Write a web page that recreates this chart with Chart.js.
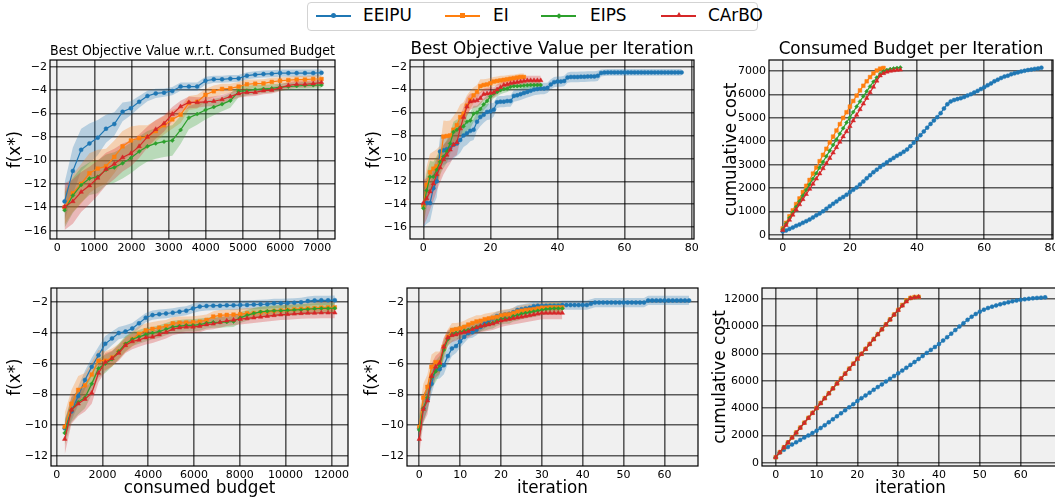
<!DOCTYPE html>
<html>
<head>
<meta charset="utf-8">
<script src="https://cdn.jsdelivr.net/npm/chart.js@4.4.1/dist/chart.umd.min.js"></script>
<style>
body { margin: 0; background: #fff; overflow: hidden; }
#wrap { position: relative; width: 1055px; height: 500px; overflow: hidden; font-family: 'DejaVu Sans', sans-serif; }
#wrap canvas { position: absolute; }
#legend { position: absolute; left: 307px; top: 2px; width: 451px; height: 29px; box-sizing: border-box;
  border: 1px solid #d3d3d3; border-radius: 4px; background: #fff; }
.lg-line { position: absolute; top: 12px; height: 1.5px; width: 35px; }
.lg-mk { position: absolute; }
.lg-text { position: absolute; top: 1px; font-size: 16.9px; line-height: 22px; color: #000; }
</style>
</head>
<body>
<div id="wrap">
  <div id="legend">
    <div class="lg-line" style="left:8px;background:#1f77b4"></div>
    <div class="lg-mk" style="left:23px;top:10px;width:5px;height:5px;border-radius:50%;background:#1f77b4"></div>
    <div class="lg-text" style="left:55px">EEIPU</div>
    <div class="lg-line" style="left:137px;background:#ff7f0e"></div>
    <div class="lg-mk" style="left:152px;top:10px;width:5px;height:5px;background:#ff7f0e"></div>
    <div class="lg-text" style="left:185px">EI</div>
    <div class="lg-line" style="left:233px;background:#2ca02c"></div>
    <div class="lg-mk" style="left:249px;top:11px;width:4px;height:4px;transform:rotate(45deg);background:#2ca02c"></div>
    <div class="lg-text" style="left:282px">EIPS</div>
    <div class="lg-line" style="left:353px;background:#d62728"></div>
    <div class="lg-mk" style="left:368px;top:9px;width:0;height:0;border-left:3px solid transparent;border-right:3px solid transparent;border-bottom:5px solid #d62728"></div>
    <div class="lg-text" style="left:400px">CArBO</div>
  </div>
</div>
<script>
// ---- tick labels ----
const XT_BUDGET_TOP = [0, 1000, 2000, 3000, 4000, 5000, 6000, 7000];
const XT_ITER_TOP = [0, 20, 40, 60, 80];
const XT_BUDGET_BOT = [0, 2000, 4000, 6000, 8000, 10000, 12000];
const XT_ITER_BOT = [0, 10, 20, 30, 40, 50, 60];
const YT_F_TOP = [-16, -14, -12, -10, -8, -6, -4, -2];
const YT_F_BOT = [-12, -10, -8, -6, -4, -2];
const YT_COST_TOP = [0, 1000, 2000, 3000, 4000, 5000, 6000, 7000];
const YT_COST_BOT = [0, 2000, 4000, 6000, 8000, 10000, 12000];

// ---- top row, best objective vs consumed budget ----
const B1_X = [200, 423, 646, 869, 1092, 1315, 1538, 1761, 1984, 2207, 2430, 2653, 2876, 3099, 3322, 3545,
  3768, 3991, 4214, 4437, 4660, 4883, 5106, 5329, 5552, 5775, 5998, 6221, 6444, 6667, 6890, 7113];
const B1_EEIPU = [-13.5, -10.9, -9.1, -8.55, -8.06, -7.3, -6.9, -5.85, -5.55, -5.0, -4.5, -4.28, -4.22, -4.08, -3.7, -3.7,
  -3.7, -3.2, -3.08, -3.08, -3.02, -3.0, -2.77, -2.68, -2.63, -2.6, -2.55, -2.55, -2.55, -2.55, -2.55, -2.52];
const B1_EEIPU_SD = [1.6, 2.0, 1.8, 1.7, 1.5, 1.2, 1.0, 0.8, 0.6, 0.5, 0.45, 0.4, 0.35, 0.35, 0.35, 0.35,
  0.35, 0.35, 0.3, 0.3, 0.3, 0.3, 0.3, 0.3, 0.3, 0.3, 0.3, 0.3, 0.3, 0.3, 0.3, 0.3];
const B1_EI = [-14.0, -12.8, -12.0, -11.1, -10.7, -10.5, -9.7, -8.8, -8.3, -8.1, -8.0, -7.5, -7.0, -6.5, -6.1, -5.1,
  -5.0, -4.4, -4.1, -3.9, -3.85, -3.7, -3.5, -3.45, -3.43, -3.3, -3.2, -3.15, -3.1, -3.1, -3.05, -3.05];
const B1_EI_SD = [1.5, 1.6, 1.7, 1.7, 1.6, 1.5, 1.4, 1.3, 1.2, 1.1, 1.0, 0.9, 0.8, 0.8, 0.7, 0.6,
  0.6, 0.5, 0.5, 0.45, 0.4, 0.4, 0.4, 0.35, 0.35, 0.35, 0.3, 0.3, 0.3, 0.3, 0.3, 0.3];
const B1_EIPS = [-14.25, -13.0, -12.1, -11.55, -11.4, -10.8, -10.6, -10.25, -9.8, -9.25, -8.8, -8.55, -8.4, -8.3, -7.4, -6.35,
  -6.05, -5.7, -5.45, -5.2, -4.9, -4.1, -4.05, -3.95, -3.9, -3.85, -3.75, -3.7, -3.65, -3.6, -3.58, -3.57];
const B1_EIPS_SD = [1.5, 1.5, 1.5, 1.4, 1.4, 1.3, 1.3, 1.3, 1.3, 1.3, 1.3, 1.3, 1.3, 1.3, 1.2, 1.0,
  0.9, 0.8, 0.7, 0.6, 0.6, 0.5, 0.4, 0.4, 0.35, 0.35, 0.3, 0.3, 0.3, 0.3, 0.3, 0.3];
const B1_CARBO = [-13.95, -13.5, -12.7, -12.15, -11.5, -10.75, -10.3, -9.75, -9.4, -8.8, -8.0, -7.35, -6.85, -6.05, -5.4, -5.05,
  -5.05, -5.0, -4.95, -4.8, -4.55, -4.3, -4.2, -4.2, -4.05, -4.0, -3.8, -3.6, -3.5, -3.5, -3.45, -3.35];
const B1_CARBO_SD = [2.0, 1.9, 1.7, 1.6, 1.5, 1.4, 1.3, 1.2, 1.1, 1.0, 0.9, 0.8, 0.7, 0.6, 0.5, 0.5,
  0.45, 0.4, 0.4, 0.4, 0.35, 0.35, 0.35, 0.3, 0.3, 0.3, 0.3, 0.3, 0.3, 0.3, 0.3, 0.3];

// ---- top row, best objective per iteration ----
const I1_EEIPU = [-14.0, -13.9, -13.9, -12.6, -12.0, -9.4, -9.3, -9.2, -9.1, -8.8,
  -8.7, -8.4, -8.0, -7.8, -7.6, -7.5, -6.8, -6.4, -6.2, -5.95,
  -5.9, -5.75, -5.1, -5.05, -5.05, -5.0, -5.0, -4.55, -4.5, -4.4,
  -4.3, -4.2, -4.1, -4.0, -3.95, -3.9, -3.9, -3.85, -3.55, -3.35,
  -3.3, -3.3, -3.25, -2.95, -2.9, -2.9, -2.9, -2.88, -2.88, -2.86,
  -2.85, -2.85, -2.8, -2.55, -2.52, -2.5, -2.5, -2.5, -2.5, -2.5,
  -2.5, -2.5, -2.5, -2.5, -2.5, -2.5, -2.5, -2.5, -2.5, -2.5,
  -2.5, -2.5, -2.5, -2.5, -2.5, -2.5, -2.5, -2.5];
const I1_EEIPU_SD = [2.0, 1.8, 1.6, 1.5, 1.4, 1.3, 1.3, 1.2, 1.2, 1.2,
  1.1, 1.1, 1.0, 1.0, 0.9, 0.9, 0.8, 0.8, 0.7, 0.7,
  0.7, 0.6, 0.5, 0.5, 0.5, 0.5, 0.5, 0.5, 0.5, 0.5,
  0.5, 0.5, 0.5, 0.5, 0.5, 0.5, 0.5, 0.45, 0.45, 0.45,
  0.45, 0.45, 0.45, 0.45, 0.45, 0.45, 0.45, 0.45, 0.45, 0.45,
  0.45, 0.45, 0.45, 0.3, 0.3, 0.3, 0.3, 0.3, 0.3, 0.3,
  0.3, 0.3, 0.3, 0.3, 0.3, 0.3, 0.3, 0.3, 0.3, 0.3,
  0.3, 0.3, 0.3, 0.3, 0.3, 0.3, 0.3, 0.3];
const I1_EI = [-14.1, -12.3, -11.2, -10.9, -10.7, -10.3, -8.1, -8.05, -8.0, -7.5,
  -7.1, -6.4, -6.1, -5.4, -4.9, -4.5, -4.2, -3.7, -3.6, -3.55,
  -3.45, -3.3, -3.25, -3.2, -3.15, -3.1, -3.05, -3.0, -2.95, -2.9, -2.9];
const I1_EI_SD = [1.5, 1.6, 1.6, 1.5, 1.5, 1.4, 1.4, 1.3, 1.3, 1.2,
  1.2, 1.1, 1.0, 0.9, 0.8, 0.7, 0.6, 0.6, 0.5, 0.5,
  0.45, 0.4, 0.4, 0.4, 0.35, 0.35, 0.35, 0.3, 0.3, 0.3, 0.3];
const I1_EIPS = [-14.35, -12.8, -11.6, -11.6, -11.0, -10.3, -9.85, -9.4, -8.7, -7.7,
  -7.5, -7.3, -7.2, -6.8, -6.7, -6.1, -6.0, -5.7, -5.3, -5.0,
  -4.6, -4.35, -4.2, -4.05, -3.95, -3.9, -3.75, -3.7, -3.7, -3.68,
  -3.65, -3.62, -3.6, -3.6, -3.6, -3.6];
const I1_EIPS_SD = [1.5, 1.5, 1.4, 1.3, 1.2, 1.1, 1.0, 1.0, 0.9, 0.9,
  0.9, 0.8, 0.8, 0.8, 0.7, 0.7, 0.6, 0.6, 0.5, 0.5,
  0.45, 0.4, 0.4, 0.35, 0.35, 0.3, 0.3, 0.3, 0.3, 0.3,
  0.3, 0.3, 0.3, 0.3, 0.3, 0.3];
const I1_CARBO = [-13.9, -13.5, -12.9, -12.2, -11.4, -10.8, -10.1, -9.7, -9.25, -8.8,
  -8.6, -7.4, -6.4, -5.5, -5.05, -5.0, -4.95, -4.75, -4.4, -4.35,
  -4.3, -4.25, -4.0, -3.8, -3.6, -3.55, -3.45, -3.4, -3.35, -3.3,
  -3.25, -3.2, -3.2, -3.2, -3.2, -3.2];
const I1_CARBO_SD = [2.0, 1.8, 1.6, 1.5, 1.4, 1.3, 1.3, 1.2, 1.2, 1.1,
  1.1, 1.0, 0.9, 0.8, 0.7, 0.6, 0.6, 0.55, 0.5, 0.5,
  0.5, 0.45, 0.45, 0.4, 0.4, 0.4, 0.4, 0.4, 0.4, 0.4,
  0.4, 0.4, 0.4, 0.4, 0.4, 0.4];

// ---- top row, cumulative cost per iteration ----
const C1_EEIPU = [150, 190, 260, 320, 390, 450, 520, 590, 660, 750,
  840, 920, 1010, 1120, 1230, 1330, 1430, 1540, 1620, 1720,
  1830, 1930, 2030, 2160, 2280, 2420, 2550, 2680, 2790, 2900,
  3000, 3100, 3200, 3290, 3380, 3460, 3550, 3650, 3790, 3940,
  4110, 4260, 4420, 4580, 4740, 4890, 5030, 5200, 5400, 5580,
  5700, 5760, 5800, 5840, 5890, 5950, 6010, 6080, 6150, 6230,
  6310, 6390, 6470, 6560, 6630, 6700, 6760, 6800, 6860, 6900,
  6940, 6980, 7010, 7040, 7060, 7090, 7110, 7140];
const C1_EI = [280, 520, 800, 1050, 1320, 1560, 1830, 2100, 2350, 2620,
  2880, 3150, 3420, 3680, 3950, 4200, 4460, 4730, 5000, 5240,
  5480, 5720, 5950, 6170, 6370, 6560, 6740, 6900, 7020, 7100, 7130];
const C1_EIPS = [250, 480, 720, 960, 1200, 1440, 1680, 1920, 2160, 2400,
  2640, 2880, 3120, 3360, 3600, 3840, 4080, 4320, 4560, 4800,
  5020, 5250, 5480, 5700, 5920, 6130, 6340, 6540, 6720, 6870,
  6980, 7040, 7080, 7110, 7130, 7150];
const C1_CARBO = [200, 420, 640, 860, 1080, 1300, 1520, 1740, 1960, 2180,
  2400, 2620, 2840, 3060, 3280, 3510, 3740, 3970, 4200, 4420,
  4640, 4880, 5120, 5360, 5600, 5840, 6080, 6320, 6580, 6800,
  6900, 6960, 7000, 7020, 7040, 7050];

// ---- bottom row, best objective vs consumed budget ----
const B2_X = [350, 645, 940, 1235, 1530, 1825, 2120, 2415, 2710, 3005,
  3300, 3595, 3890, 4185, 4480, 4775, 5070, 5365, 5660, 5955,
  6250, 6545, 6840, 7135, 7430, 7725, 8020, 8315, 8610, 8905,
  9200, 9495, 9790, 10085, 10380, 10675, 10970, 11265, 11560, 11855, 12150];
const B2_EEIPU = [-10.2, -9.1, -8.1, -7.05, -6.2, -5.45, -4.7, -4.35, -4.0, -3.9,
  -3.7, -3.37, -3.0, -2.83, -2.77, -2.73, -2.68, -2.61, -2.55, -2.4,
  -2.28, -2.24, -2.22, -2.22, -2.2, -2.2, -2.18, -2.17, -2.15, -2.13,
  -2.12, -2.07, -2.07, -2.05, -2.03, -2.0, -1.92, -1.88, -1.87, -1.87, -1.86];
const B2_EEIPU_SD = [0.6, 0.6, 0.6, 0.6, 0.6, 0.55, 0.5, 0.45, 0.4, 0.4,
  0.35, 0.35, 0.3, 0.3, 0.3, 0.3, 0.3, 0.3, 0.3, 0.3,
  0.3, 0.3, 0.3, 0.3, 0.3, 0.3, 0.3, 0.3, 0.3, 0.3,
  0.3, 0.3, 0.3, 0.3, 0.3, 0.3, 0.3, 0.3, 0.3, 0.3, 0.3];
const B2_EI = [-10.1, -8.6, -7.7, -7.4, -6.7, -5.8, -5.8, -5.6, -5.2, -4.75,
  -4.4, -4.05, -3.83, -3.73, -3.65, -3.55, -3.37, -3.33, -3.32, -3.3,
  -3.26, -3.15, -2.93, -2.85, -2.82, -2.8, -2.77, -2.72, -2.7, -2.66,
  -2.62, -2.57, -2.53, -2.5, -2.46, -2.43, -2.4, -2.38, -2.35, -2.33, -2.33];
const B2_EI_SD = [0.9, 0.9, 0.9, 0.8, 0.8, 0.7, 0.6, 0.6, 0.5, 0.5,
  0.5, 0.5, 0.45, 0.45, 0.45, 0.4, 0.4, 0.4, 0.4, 0.4,
  0.4, 0.35, 0.35, 0.35, 0.35, 0.35, 0.35, 0.35, 0.35, 0.35,
  0.35, 0.35, 0.35, 0.35, 0.35, 0.35, 0.35, 0.35, 0.35, 0.35, 0.35];
const B2_EIPS = [-10.5, -9.0, -8.5, -8.2, -7.3, -6.3, -6.0, -5.7, -5.2, -4.7,
  -4.4, -4.25, -4.1, -4.0, -3.9, -3.75, -3.6, -3.55, -3.5, -3.5,
  -3.45, -3.35, -3.3, -3.3, -3.28, -3.25, -3.0, -2.85, -2.72, -2.62,
  -2.58, -2.55, -2.55, -2.52, -2.5, -2.48, -2.45, -2.42, -2.4, -2.4, -2.38];
const B2_EIPS_SD = [0.8, 0.8, 0.8, 0.7, 0.7, 0.6, 0.6, 0.5, 0.5, 0.5,
  0.45, 0.45, 0.45, 0.4, 0.4, 0.4, 0.4, 0.4, 0.4, 0.4,
  0.4, 0.35, 0.35, 0.35, 0.35, 0.35, 0.35, 0.35, 0.35, 0.35,
  0.35, 0.35, 0.35, 0.35, 0.35, 0.35, 0.35, 0.35, 0.35, 0.35, 0.35];
const B2_CARBO = [-10.9, -9.0, -8.6, -8.3, -7.9, -6.6, -5.9, -5.65, -5.3, -4.8,
  -4.55, -4.45, -4.3, -4.25, -4.1, -3.95, -3.75, -3.65, -3.6, -3.6,
  -3.55, -3.45, -3.4, -3.3, -3.2, -3.15, -3.1, -3.05, -3.0, -2.95,
  -2.9, -2.85, -2.8, -2.78, -2.75, -2.72, -2.7, -2.7, -2.68, -2.68, -2.68];
const B2_CARBO_SD = [1.0, 0.9, 0.8, 0.8, 0.7, 0.6, 0.6, 0.5, 0.5, 0.5,
  0.5, 0.45, 0.45, 0.4, 0.4, 0.4, 0.4, 0.4, 0.4, 0.4,
  0.4, 0.35, 0.35, 0.35, 0.35, 0.35, 0.35, 0.35, 0.35, 0.35,
  0.35, 0.35, 0.35, 0.35, 0.35, 0.35, 0.35, 0.35, 0.35, 0.35, 0.35];

// ---- bottom row, best objective per iteration ----
const I2_EEIPU = [-10.2, -8.9, -8.3, -7.3, -6.4, -6.35, -6.1, -5.5, -5.0, -4.85,
  -4.55, -4.25, -4.0, -3.95, -3.8, -3.6, -3.4, -3.2, -3.05, -2.9,
  -2.85, -2.8, -2.75, -2.65, -2.5, -2.45, -2.4, -2.35, -2.25, -2.22,
  -2.22, -2.22, -2.22, -2.22, -2.22, -2.18, -2.18, -2.18, -2.18, -2.18,
  -2.18, -2.18, -2.1, -2.02, -2.02, -2.02, -2.02, -2.02, -2.02, -2.02,
  -2.02, -2.02, -2.02, -2.02, -2.02, -2.02, -1.88, -1.88, -1.88, -1.88,
  -1.88, -1.88, -1.88, -1.88, -1.88, -1.88, -1.88];
const I2_EEIPU_SD = [0.8, 0.8, 0.7, 0.7, 0.6, 0.6, 0.6, 0.5, 0.5, 0.45,
  0.4, 0.4, 0.35, 0.35, 0.35, 0.3, 0.3, 0.3, 0.3, 0.3,
  0.3, 0.3, 0.3, 0.3, 0.3, 0.3, 0.3, 0.3, 0.3, 0.3,
  0.3, 0.3, 0.3, 0.3, 0.3, 0.3, 0.3, 0.3, 0.3, 0.3,
  0.3, 0.3, 0.3, 0.3, 0.3, 0.3, 0.3, 0.3, 0.3, 0.3,
  0.3, 0.3, 0.3, 0.3, 0.3, 0.3, 0.3, 0.3, 0.3, 0.3,
  0.3, 0.3, 0.3, 0.3, 0.3, 0.3, 0.3];
const I2_EI = [-10.1, -8.2, -7.5, -6.2, -5.9, -5.9, -4.9, -4.25, -3.8, -3.75,
  -3.7, -3.6, -3.45, -3.35, -3.25, -3.2, -3.1, -3.05, -3.0, -2.95,
  -2.85, -2.8, -2.78, -2.7, -2.6, -2.55, -2.5, -2.48, -2.45, -2.4,
  -2.35, -2.35, -2.33, -2.33, -2.33, -2.33];
const I2_EI_SD = [1.0, 0.9, 0.8, 0.8, 0.7, 0.7, 0.6, 0.5, 0.45, 0.4,
  0.4, 0.4, 0.4, 0.4, 0.4, 0.35, 0.35, 0.35, 0.35, 0.35,
  0.35, 0.35, 0.35, 0.35, 0.35, 0.35, 0.35, 0.35, 0.35, 0.35,
  0.35, 0.35, 0.35, 0.35, 0.35, 0.35];
const I2_EIPS = [-10.3, -8.9, -8.2, -6.9, -6.5, -6.1, -5.1, -4.4, -4.1, -4.0,
  -3.95, -3.85, -3.8, -3.7, -3.6, -3.55, -3.5, -3.4, -3.35, -3.2,
  -3.1, -3.05, -3.05, -2.9, -2.85, -2.75, -2.7, -2.65, -2.6, -2.55,
  -2.5, -2.45, -2.42, -2.4, -2.4, -2.4];
const I2_EIPS_SD = [0.9, 0.9, 0.8, 0.7, 0.7, 0.6, 0.6, 0.5, 0.45, 0.4,
  0.4, 0.4, 0.4, 0.4, 0.4, 0.35, 0.35, 0.35, 0.35, 0.35,
  0.35, 0.35, 0.35, 0.35, 0.35, 0.35, 0.35, 0.35, 0.35, 0.35,
  0.35, 0.35, 0.35, 0.35, 0.35, 0.35];
const I2_CARBO = [-10.9, -8.95, -8.4, -6.8, -6.2, -5.95, -4.9, -4.3, -4.15, -4.1,
  -4.0, -3.95, -3.9, -3.75, -3.65, -3.55, -3.5, -3.45, -3.4, -3.3,
  -3.2, -3.15, -3.1, -3.05, -3.0, -2.95, -2.9, -2.85, -2.8, -2.75,
  -2.7, -2.7, -2.7, -2.7, -2.7, -2.7];
const I2_CARBO_SD = [1.0, 0.9, 0.9, 0.8, 0.7, 0.7, 0.6, 0.5, 0.45, 0.4,
  0.4, 0.4, 0.4, 0.4, 0.4, 0.4, 0.4, 0.4, 0.4, 0.4,
  0.4, 0.4, 0.4, 0.4, 0.4, 0.4, 0.4, 0.4, 0.4, 0.4,
  0.4, 0.4, 0.4, 0.4, 0.4, 0.4];

// ---- bottom row, cumulative cost per iteration ----
const C2_EEIPU = [400, 750, 950, 1150, 1330, 1500, 1670, 1840, 2000, 2170,
  2340, 2540, 2740, 2960, 3180, 3400, 3620, 3840, 4060, 4290,
  4520, 4730, 4930, 5130, 5340, 5540, 5740, 5950, 6150, 6350,
  6550, 6750, 6960, 7170, 7380, 7600, 7820, 8050, 8270, 8480,
  8700, 8950, 9200, 9460, 9720, 9980, 10230, 10470, 10700, 10900,
  11070, 11220, 11340, 11440, 11530, 11610, 11690, 11760, 11830, 11890,
  11940, 11980, 12020, 12050, 12080, 12100, 12120];
const C2_EI = [400, 770, 1130, 1490, 1850, 2210, 2570, 2930, 3290, 3650,
  4010, 4370, 4730, 5090, 5450, 5810, 6170, 6530, 6890, 7260,
  7620, 7980, 8340, 8700, 9060, 9420, 9780, 10140, 10500, 10860,
  11200, 11560, 11900, 12080, 12140, 12160];
const C2_EIPS = [390, 760, 1120, 1480, 1840, 2200, 2560, 2920, 3280, 3640,
  4000, 4360, 4720, 5080, 5440, 5800, 6160, 6520, 6880, 7240,
  7610, 7970, 8330, 8690, 9050, 9410, 9770, 10130, 10490, 10850,
  11190, 11520, 11850, 12060, 12130, 12150];
const C2_CARBO = [390, 750, 1110, 1470, 1830, 2190, 2550, 2910, 3270, 3630,
  3990, 4350, 4710, 5070, 5430, 5790, 6150, 6510, 6870, 7230,
  7600, 7960, 8320, 8680, 9040, 9400, 9760, 10120, 10480, 10840,
  11180, 11500, 11800, 12050, 12120, 12150];

// series styles (blue, orange, green, red)
const SERIES = [
  { name: 'EEIPU', color: '#1f77b4', band: 'rgba(31,119,180,0.28)', marker: 'circle', r: 2, order: 4 },
  { name: 'EI', color: '#ff7f0e', band: 'rgba(255,127,14,0.28)', marker: 'rect', r: 2.6, order: 3 },
  { name: 'EIPS', color: '#2ca02c', band: 'rgba(44,160,44,0.28)', marker: 'rectRot', r: 2, order: 2 },
  { name: 'CArBO', color: '#d62728', band: 'rgba(214,39,40,0.28)', marker: 'triangle', r: 2.6, order: 1 }
];

const FONT = "'DejaVu Sans', sans-serif";

function pts(xs, ys, sd, sign) {
  return ys.map((v, i) => ({ x: xs ? xs[i] : i, y: sd ? v + sign * sd[i] : v }));
}

function makeDatasets(xs, ys, sds) {
  const out = [];
  SERIES.forEach((s, k) => {
    out.push({
      label: s.name, data: pts(xs[k], ys[k]), borderColor: s.color, backgroundColor: s.color,
      borderWidth: 1.2, pointStyle: s.marker, pointRadius: s.r, pointBorderWidth: 0.5,
      pointBorderColor: s.color, pointBackgroundColor: s.color, fill: false, tension: 0, order: s.order
    });
  });
  if (sds) {
    SERIES.forEach((s, k) => {
      out.push({ data: pts(xs[k], ys[k], sds[k], 1), borderWidth: 0, borderColor: 'transparent',
        pointRadius: 0, fill: false, order: 10 + s.order });
      out.push({ data: pts(xs[k], ys[k], sds[k], -1), borderWidth: 0, borderColor: 'transparent',
        pointRadius: 0, fill: '-1', backgroundColor: s.band, order: 10 + s.order });
    });
  }
  return out;
}

const framePlugin = {
  id: 'frame',
  beforeDraw(chart) {
    const a = chart.chartArea, ctx = chart.ctx;
    ctx.save();
    ctx.fillStyle = '#f0f0f0';
    ctx.fillRect(a.left, a.top, a.right - a.left, a.bottom - a.top);
    ctx.restore();
  },
  afterDraw(chart) {
    const a = chart.chartArea, ctx = chart.ctx;
    ctx.save();
    ctx.strokeStyle = '#000';
    ctx.lineWidth = 1.2;
    ctx.strokeRect(a.left, a.top, a.right - a.left, a.bottom - a.top);
    ctx.restore();
  }
};

function fmt(v) { return String(v).replace('-', '\u2212'); }

function axis(range, ticks, fitFn, title) {
  return {
    type: 'linear', min: range[0], max: range[1],
    afterBuildTicks: sc => { sc.ticks = ticks.map(v => ({ value: v })); },
    afterFit: fitFn,
    ticks: { font: { family: FONT, size: 11 }, color: '#000', padding: 3, autoSkip: false, maxRotation: 0,
      callback: v => fmt(v) },
    grid: { color: 'rgba(0,0,0,0.62)', lineWidth: 1.6, drawTicks: false },
    border: { display: false },
    title: title
  };
}

const PANELS = [
  { rect: [50, 60, 335, 239], wy: 50, hx: 22, xr: [-192, 7476], yr: [-16.71, -1.43], xt: XT_BUDGET_TOP, yt: YT_F_TOP,
    title: { text: 'Best Objective Value w.r.t. Consumed Budget', size: 13.4, lh: 16, pt: 8, pb: 0 },
    ytitle: { text: 'f(x*)', pad: 6 },
    xs: [B1_X, B1_X, B1_X, B1_X], ys: [B1_EEIPU, B1_EI, B1_EIPS, B1_CARBO], sd: [B1_EEIPU_SD, B1_EI_SD, B1_EIPS_SD, B1_CARBO_SD] },
  { rect: [410, 60, 694, 239], wy: 50, hx: 22, xr: [-3.97, 80.7], yr: [-17.03, -1.42], xt: XT_ITER_TOP, yt: YT_F_TOP,
    title: { text: 'Best Objective Value per Iteration', size: 16.8, lh: 20, pt: 4, pb: 0 },
    ytitle: { text: 'f(x*)', pad: 5 },
    xs: [null, null, null, null], ys: [I1_EEIPU, I1_EI, I1_EIPS, I1_CARBO], sd: [I1_EEIPU_SD, I1_EI_SD, I1_EIPS_SD, I1_CARBO_SD] },
  { rect: [769, 60, 1053, 239], wy: 62, hx: 22, xr: [-4.08, 80.45], yr: [-171, 7469], xt: XT_ITER_TOP, yt: YT_COST_TOP,
    title: { text: 'Consumed Budget per Iteration', size: 16.8, lh: 20, pt: 5, pb: 0 },
    ytitle: { text: 'cumulative cost', pad: 15 },
    xs: [null, null, null, null], ys: [C1_EEIPU, C1_EI, C1_EIPS, C1_CARBO], sd: null },
  { rect: [51, 288, 348, 466], wy: 50, hx: 34, xr: [-249, 12726], yr: [-12.65, -1.07], xt: XT_BUDGET_BOT, yt: YT_F_BOT,
    ytitle: { text: 'f(x*)', pad: 5 }, xtitle: { text: 'consumed budget', pad: 1 },
    xs: [B2_X, B2_X, B2_X, B2_X], ys: [B2_EEIPU, B2_EI, B2_EIPS, B2_CARBO], sd: [B2_EEIPU_SD, B2_EI_SD, B2_EIPS_SD, B2_CARBO_SD] },
  { rect: [407, 288, 698, 466], wy: 50, hx: 34, xr: [-3.0, 68.2], yr: [-12.65, -1.07], xt: XT_ITER_BOT, yt: YT_F_BOT,
    ytitle: { text: 'f(x*)', pad: 5.5 }, xtitle: { text: 'iteration', pad: 1 },
    xs: [null, null, null, null], ys: [I2_EEIPU, I2_EI, I2_EIPS, I2_CARBO], sd: [I2_EEIPU_SD, I2_EI_SD, I2_EIPS_SD, I2_CARBO_SD] },
  { rect: [762, 288, 1059, 466], wy: 62, hx: 34, xr: [-3.36, 69.4], yr: [-242, 12806], xt: XT_ITER_BOT, yt: YT_COST_BOT,
    ytitle: { text: 'cumulative cost', pad: 11 }, xtitle: { text: 'iteration', pad: 1 },
    xs: [null, null, null, null], ys: [C2_EEIPU, C2_EI, C2_EIPS, C2_CARBO], sd: null }
];

const wrap = document.getElementById('wrap');
PANELS.forEach(p => {
  const [L, T, R, B] = p.rect;
  const topPad = p.title ? p.title.lh + p.title.pt + p.title.pb : 10;
  const rightPad = 14;
  const cv = document.createElement('canvas');
  cv.width = p.wy + (R - L) + rightPad;
  cv.height = topPad + (B - T) + p.hx;
  cv.style.left = (L - p.wy) + 'px';
  cv.style.top = (T - topPad) + 'px';
  wrap.appendChild(cv);

  const axTitle = (t, isX) => t ? {
    display: true, text: t.text, color: '#000',
    font: { family: FONT, size: 16.8, lineHeight: '20px' },
    padding: isX ? { top: 0, bottom: t.pad } : { top: t.pad, bottom: 0 }
  } : { display: false };

  new Chart(cv, {
    type: 'line',
    data: { datasets: makeDatasets(p.xs, p.ys, p.sd) },
    options: {
      responsive: false,
      animation: false,
      layout: { padding: { top: p.title ? 0 : topPad, right: rightPad, left: 0, bottom: 0 } },
      scales: {
        x: axis(p.xr, p.xt, sc => { sc.height = p.hx; }, axTitle(p.xtitle, true)),
        y: axis(p.yr, p.yt, sc => { sc.width = p.wy; }, axTitle(p.ytitle, false))
      },
      plugins: {
        legend: { display: false },
        tooltip: { enabled: false },
        title: p.title ? {
          display: true, text: p.title.text, color: '#000', fullSize: false,
          font: { family: FONT, size: p.title.size, weight: 'normal', lineHeight: p.title.lh + 'px' },
          padding: { top: p.title.pt, bottom: p.title.pb }
        } : { display: false }
      }
    },
    plugins: [framePlugin]
  });
});
</script>
</body>
</html>
